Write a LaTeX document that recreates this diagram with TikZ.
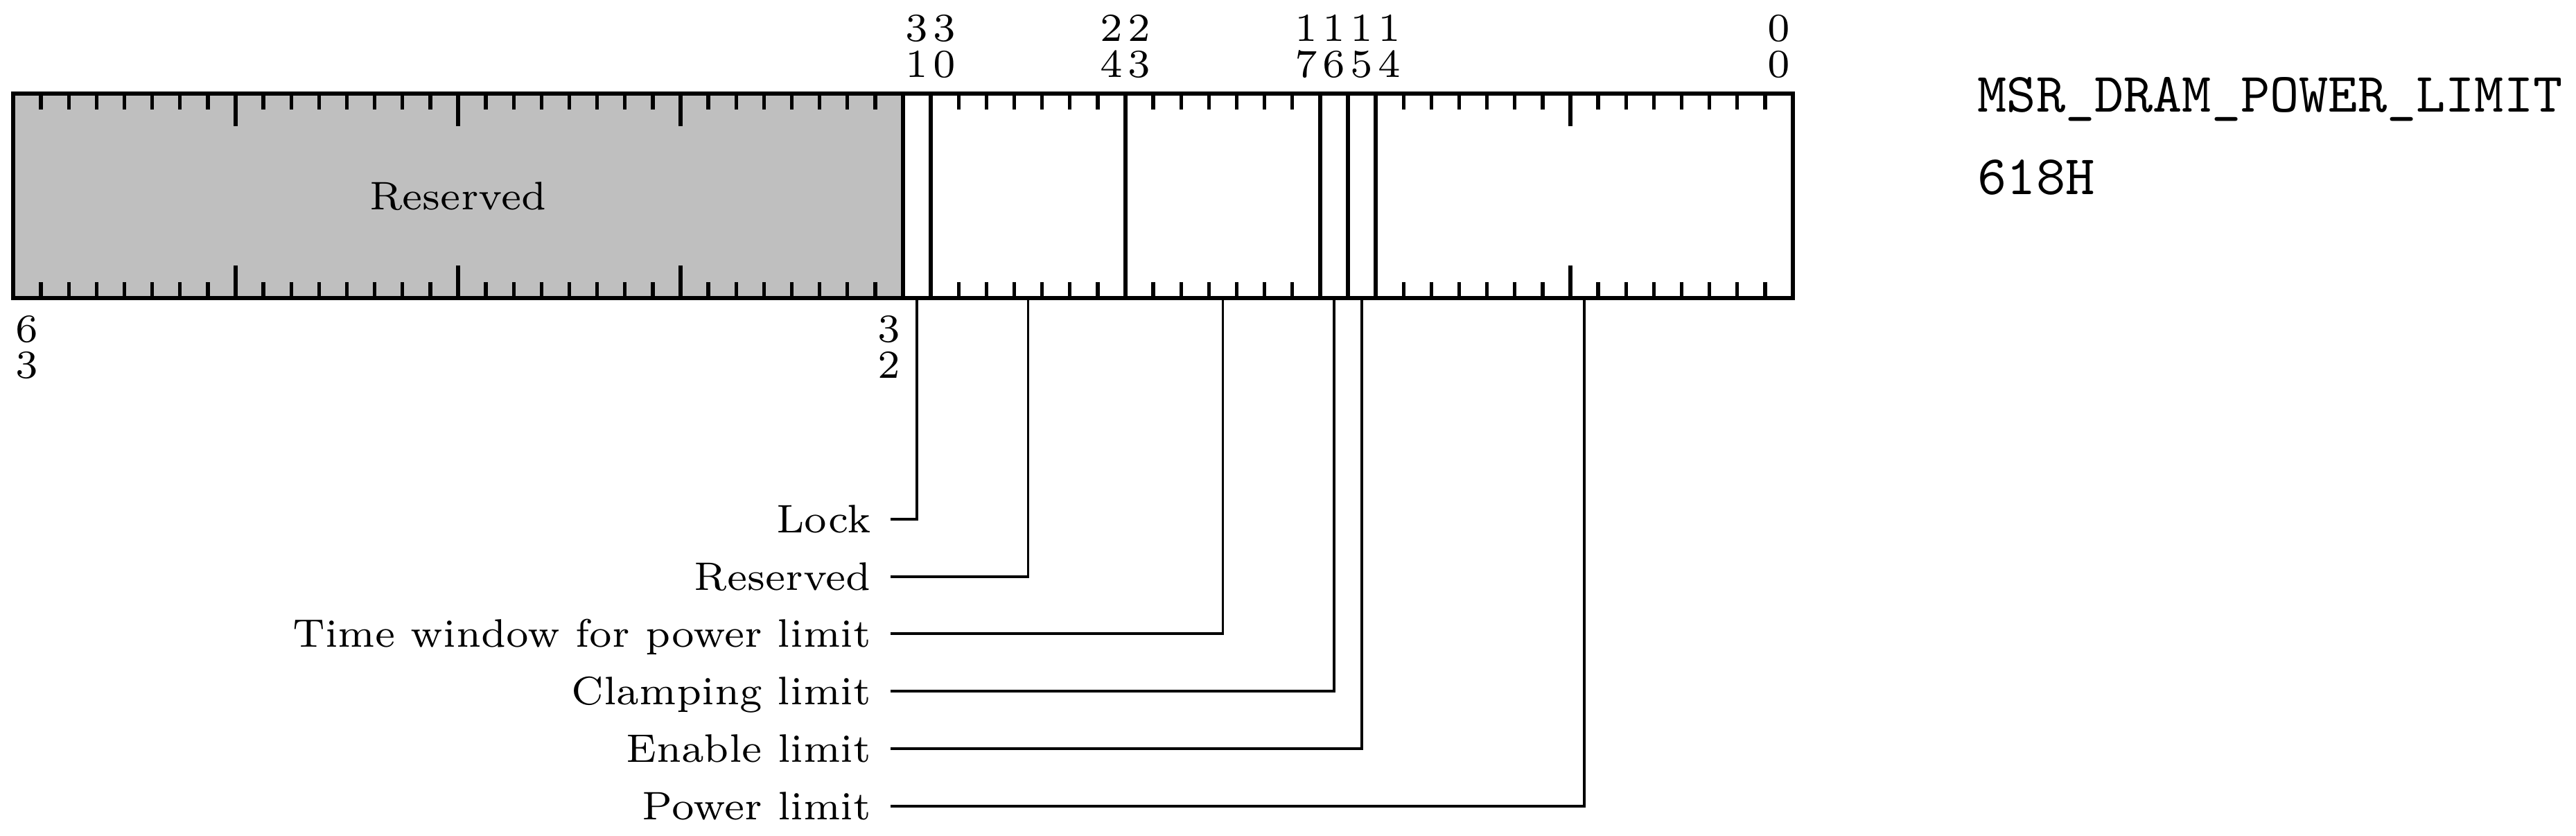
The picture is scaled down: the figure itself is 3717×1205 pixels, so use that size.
\documentclass[tikz,border=0pt]{standalone}
\definecolor{resgray}{gray}{0.75}
\begin{document}
\begin{tikzpicture}[x=0.121951pt,y=-0.121951pt,
  frame/.style={line width=0.75pt},
  fieldsep/.style={line width=0.65pt},
  tickmark/.style={line width=0.65pt},
  leader/.style={line width=0.4pt},
  bitnum/.style={font=\fontsize{7}{8}\selectfont, inner sep=0pt, anchor=base},
  fieldlbl/.style={font=\fontsize{7}{8}\selectfont, anchor=east, inner xsep=3.2pt, inner ysep=0pt, text height=4.78pt, text depth=0pt},
  graylbl/.style={font=\fontsize{7}{8}\selectfont, inner sep=0pt, text height=4.78pt, text depth=0pt},
  regtxt/.style={font=\fontsize{9.8}{12}\selectfont\ttfamily, anchor=base west, inner sep=0pt},
]
\useasboundingbox (0,0) rectangle (3717,1205);
\def\R{2587}\def\T{135}\def\B{430}\def\bw{40.125}
% reserved gray block (bits 63..32)
\fill[resgray] ({\R-64*\bw},\T) rectangle ({\R-32*\bw},\B);
% tick marks
\foreach \k in {1,...,63}{
  \pgfmathtruncatemacro{\tskip}{(\k==15)||(\k==16)||(\k==17)||(\k==24)||(\k==31)||(\k==32)}
  \ifnum\tskip=0
    \pgfmathtruncatemacro{\tlong}{mod(\k,8)==0}
    \ifnum\tlong=1 \def\tl{47}\else\def\tl{23}\fi
    \draw[tickmark] ({\R-\k*\bw},\T) -- ++(0,\tl);
    \draw[tickmark] ({\R-\k*\bw},\B) -- ++(0,-\tl);
  \fi
}
% field separators
\foreach \k in {32,31,24,17,16,15}{
  \draw[fieldsep] ({\R-\k*\bw},\T) -- ({\R-\k*\bw},\B);
}
% outer frame
\draw[frame] ({\R-64*\bw},\T) rectangle (\R,\B);
% field name in gray block
\node[graylbl] (resname) at ({\R-48*\bw},282.5) {Reserved};
% bit numbers above
\foreach \i/\a/\b in {31/3/1,30/3/0,24/2/4,23/2/3,17/1/7,16/1/6,15/1/5,14/1/4,0/0/0}{
  \node[bitnum] (top\i a) at ({\R-(\i+0.5)*\bw},59) {\a};
  \node[bitnum] (top\i b) at ({\R-(\i+0.5)*\bw},111) {\b};
}
% bit numbers below
\foreach \i/\a/\b in {63/6/3,32/3/2}{
  \node[bitnum] (bot\i a) at ({\R-(\i+0.5)*\bw},493) {\a};
  \node[bitnum] (bot\i b) at ({\R-(\i+0.5)*\bw},545) {\b};
}
% register name
\node[regtxt] (regname) at (2852,161) {MSR\_DRAM\_POWER\_LIMIT};
\node[regtxt] (regaddr) at (2852,280) {618H};
% leader anchor points on the bottom edge
\coordinate (cLock) at ({\R-31.5*\bw},\B);
\coordinate (cRes)  at ({\R-27.5*\bw},\B);
\coordinate (cTime) at ({\R-20.5*\bw},\B);
\coordinate (cClamp) at ({\R-16.5*\bw},\B);
\coordinate (cEn)   at ({\R-15.5*\bw},\B);
\coordinate (cPow)  at ({\R-7.5*\bw},\B);
% field labels
\node[fieldlbl] (lLock)  at (1285,749)  {Lock};
\node[fieldlbl] (lRes)   at (1285,832)  {Reserved};
\node[fieldlbl] (lTime)  at (1285,914)  {Time window for power limit};
\node[fieldlbl] (lClamp) at (1285,997)  {Clamping limit};
\node[fieldlbl] (lEn)    at (1285,1080) {Enable limit};
\node[fieldlbl] (lPow)   at (1285,1163) {Power limit};
% leaders
\draw[leader] (lLock.east) -| (cLock);
\draw[leader] (lRes.east) -| (cRes);
\draw[leader] (lTime.east) -| (cTime);
\draw[leader] (lClamp.east) -| (cClamp);
\draw[leader] (lEn.east) -| (cEn);
\draw[leader] (lPow.east) -| (cPow);
\end{tikzpicture}
\end{document}
